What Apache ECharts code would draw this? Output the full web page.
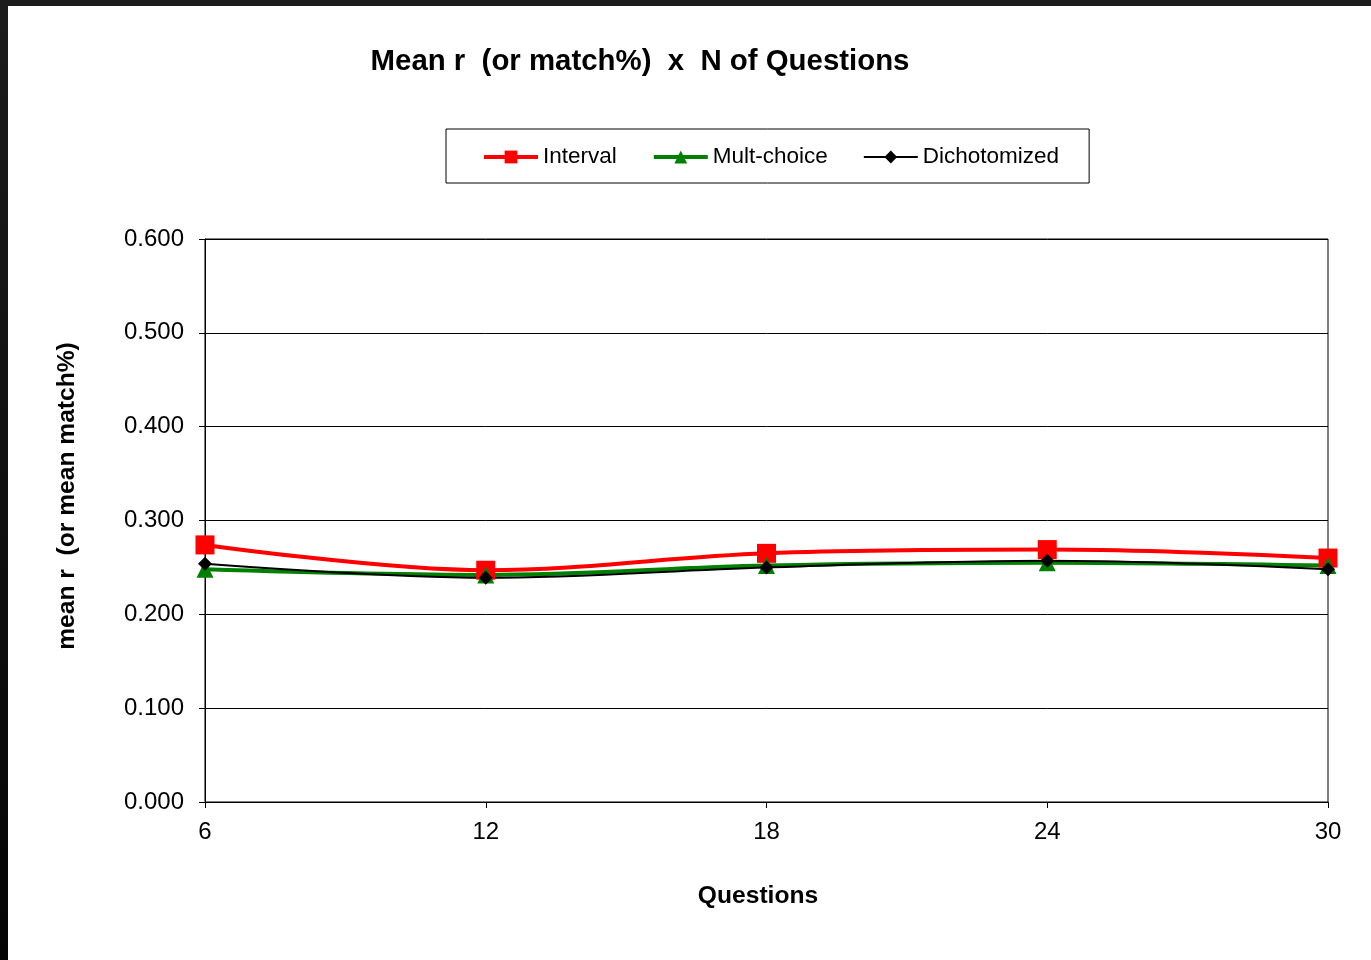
<!DOCTYPE html>
<html>
<head>
<meta charset="utf-8">
<title>Mean r x N of Questions</title>
<script src="https://cdn.jsdelivr.net/npm/echarts@6/dist/echarts.min.js"></script>
<style>
  html, body { margin: 0; padding: 0; }
  body {
    width: 1371px; height: 960px; overflow: hidden;
    background: linear-gradient(#1c1c1c, #050505);
    position: relative;
  }
  #chart {
    position: absolute; left: 8px; top: 6px;
    width: 1363px; height: 954px; background: #ffffff;
  }
</style>
</head>
<body>
<div id="chart"></div>
<script>
// Number of questions on the x axis
const questions = [6, 12, 18, 24, 30];

// Mean r (or mean match%) per scoring method
const interval     = [0.274, 0.247, 0.265, 0.269, 0.260];
const multChoice   = [0.248, 0.242, 0.252, 0.255, 0.252];
const dichotomized = [0.254, 0.239, 0.250, 0.257, 0.248];

const FONT = '"Liberation Sans", Arial, sans-serif';

function pairs(values) {
  return questions.map((q, i) => [q, values[i]]);
}

const chart = echarts.init(document.getElementById('chart'), null, { renderer: 'canvas' });

chart.setOption({
  animation: false,
  backgroundColor: '#ffffff',
  textStyle: { fontFamily: FONT, color: '#000' },
  title: {
    text: 'Mean r  (or match%)  x  N of Questions',
    left: 627,
    textAlign: 'center',
    top: 36,
    textStyle: { fontFamily: FONT, fontSize: 29.4, fontWeight: 'bold', color: '#000' }
  },
  legend: {
    left: 438,
    top: 123,
    padding: [14, 30, 12, 36],
    borderColor: '#000',
    borderWidth: 1,
    itemWidth: 54,
    itemHeight: 16,
    itemGap: 35,
    lineStyle: { width: 'inherit' },
    textStyle: { fontFamily: FONT, fontSize: 22.5, color: '#000', lineHeight: 28 },
    data: ['Interval', 'Mult-choice', 'Dichotomized']
  },
  grid: {
    left: 197,
    top: 233,
    right: 43,
    bottom: 158,
    show: true,
    borderColor: '#000',
    borderWidth: 1
  },
  // Axis titles sit a little off the plot centre, so they are placed as free text
  graphic: [
    {
      type: 'text',
      x: 59,
      y: 490,
      rotation: Math.PI / 2,
      style: {
        text: 'mean r  (or mean match%)',
        font: 'bold 24.6px ' + FONT,
        fill: '#000',
        textAlign: 'center',
        textVerticalAlign: 'middle'
      }
    },
    {
      type: 'text',
      x: 750,
      y: 890,
      style: {
        text: 'Questions',
        font: 'bold 24.6px ' + FONT,
        fill: '#000',
        textAlign: 'center',
        textVerticalAlign: 'middle'
      }
    }
  ],
  xAxis: {
    type: 'value',
    min: 6,
    max: 30,
    interval: 6,
    axisLine: { show: true, lineStyle: { color: '#000', width: 1 } },
    axisTick: { show: true, length: 6, lineStyle: { color: '#000' } },
    axisLabel: { fontFamily: FONT, fontSize: 24, color: '#000', margin: 18 },
    splitLine: { show: false }
  },
  yAxis: {
    type: 'value',
    min: 0,
    max: 0.6,
    interval: 0.1,
    axisLine: { show: true, lineStyle: { color: '#000', width: 1 } },
    axisTick: { show: true, length: 6, lineStyle: { color: '#000' } },
    axisLabel: {
      fontFamily: FONT, fontSize: 24, color: '#000', margin: 21,
      formatter: v => v.toFixed(3)
    },
    splitLine: { show: true, lineStyle: { color: '#000', width: 1 } }
  },
  series: [
    {
      name: 'Interval',
      type: 'line',
      smooth: 0.35,
      data: pairs(interval),
      symbol: 'rect',
      symbolSize: 19,
      lineStyle: { color: '#ff0000', width: 4 },
      itemStyle: { color: '#ff0000' }
    },
    {
      name: 'Mult-choice',
      type: 'line',
      smooth: 0.35,
      data: pairs(multChoice),
      symbol: 'triangle',
      symbolSize: 17,
      lineStyle: { color: '#008000', width: 4 },
      itemStyle: { color: '#008000' }
    },
    {
      name: 'Dichotomized',
      type: 'line',
      smooth: 0.35,
      data: pairs(dichotomized),
      symbol: 'diamond',
      symbolSize: 14,
      lineStyle: { color: '#000000', width: 2 },
      itemStyle: { color: '#000000' }
    }
  ]
});
</script>
</body>
</html>
